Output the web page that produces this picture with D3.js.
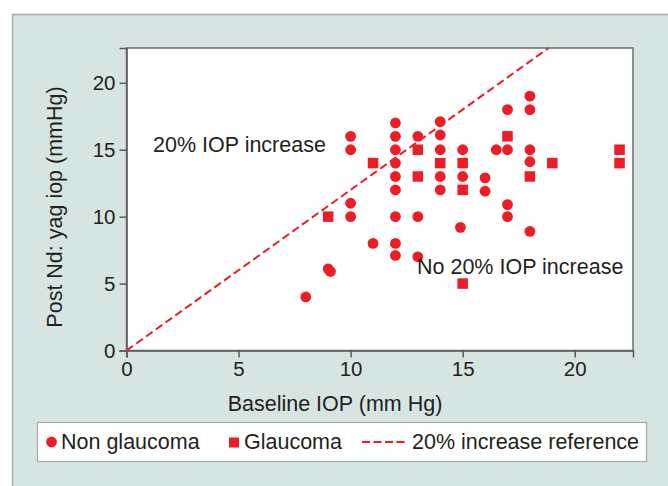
<!DOCTYPE html>
<html><head><meta charset="utf-8">
<script src="https://cdn.jsdelivr.net/npm/d3@7"></script>
<style>html,body{margin:0;padding:0;background:#fff;}svg{display:block;}text{font-family:"Liberation Sans",Arial,sans-serif;fill:#231f20;}</style>
</head><body>
<script>
// Data
const nonGlaucoma = [
  [8,4],[9,6.1],[9.1,5.9],
  [10,16],[10,15],[10,11],[10,10],
  [11,8],
  [12,17],[12,16],[12,15],[12,14],[12,13],[12,12],[12,10],[12,8],[12,7.1],
  [13,16],[13,10],[13,7],
  [14,17.1],[14,16.1],[14,15],[14,13],[14,12],
  [15,15],[15,13],[14.9,9.2],
  [16,12.9],[16,11.9],[16.5,15],
  [17,18],[17,15],[17,10.9],[17,10],
  [18,19],[18,18],[18,15],[18,14.1],[18,8.9]
];
const glaucoma = [
  [9,10],[11,14],[13,15],[13,13],[14,14],[15,14],[15,12],[15,5],
  [17,16],[18,13],[19,14],[22,15],[22,14]
];
const xTicks = [0,5,10,15,20];
const yTicks = [0,5,10,15,20];
const refSlope = 1.2;
const labels = {x:"Baseline IOP (mm Hg)", y:"Post Nd: yag iop (mmHg)", above:"20% IOP increase", below:"No 20% IOP increase"};
const legendItems = ["Non glaucoma","Glaucoma","20% increase reference"];

const W=668,H=486, red="#ee1c25";
const svg=d3.select("body").append("svg").attr("width",W).attr("height",H);
// panel
svg.append("rect").attr("x",12.5).attr("y",14.5).attr("width",W).attr("height",H).attr("fill","#d6e5e2").attr("stroke","#a9acac").attr("stroke-width",1.5);

const L=126.5,R=633,T=48,B=350.5;
const x=d3.scaleLinear().domain([0,22.6]).range([L,R]);
const y=d3.scaleLinear().domain([0,22.6]).range([B,T]);

svg.append("rect").attr("x",L).attr("y",T).attr("width",R-L).attr("height",B-T).attr("fill","#fff").attr("stroke","#6d6e70").attr("stroke-width",1.5);

const gx=svg.append("g").attr("transform",`translate(0,${B})`).call(d3.axisBottom(x).tickValues(xTicks).tickSize(7).tickPadding(4));
const gy=svg.append("g").attr("transform",`translate(${L},0)`).call(d3.axisLeft(y).tickValues(yTicks).tickSize(7).tickPadding(4));
[gx,gy].forEach(g=>{g.select(".domain").attr("stroke","#58595b").attr("stroke-width",1.5);g.selectAll(".tick line").attr("stroke","#58595b").attr("stroke-width",1.5);g.selectAll("text").attr("font-size",20.5).attr("font-family","Liberation Sans, Arial, sans-serif").attr("fill","#231f20");});

// reference line (clipped to plot top)
const xEnd=y.domain()[1]/refSlope;
svg.append("line").attr("x1",x(0)).attr("y1",y(0)).attr("x2",x(xEnd)).attr("y2",y(xEnd*refSlope)).attr("stroke",red).attr("stroke-width",2).attr("stroke-dasharray","8,4");

svg.append("g").selectAll("circle").data(nonGlaucoma).join("circle").attr("cx",d=>x(d[0])).attr("cy",d=>y(d[1])).attr("r",5.4).attr("fill",red);
const s=10.5;
svg.append("g").selectAll("rect").data(glaucoma).join("rect").attr("x",d=>x(d[0])-s/2).attr("y",d=>y(d[1])-s/2).attr("width",s).attr("height",s).attr("fill",red);

const fs=21.5;
svg.append("text").attr("x",153).attr("y",152).attr("font-size",fs).text(labels.above);
svg.append("text").attr("x",417).attr("y",274).attr("font-size",fs).text(labels.below);
svg.append("text").attr("x",335).attr("y",411).attr("text-anchor","middle").attr("font-size",fs).text(labels.x);
svg.append("text").attr("transform",`translate(62,207) rotate(-90)`).attr("text-anchor","middle").attr("font-size",fs).text(labels.y);

// legend
const lg=svg.append("g");
lg.append("rect").attr("x",37.5).attr("y",422.5).attr("width",609).attr("height",39).attr("fill","#fff").attr("stroke","#a7a9ac").attr("stroke-width",1.2);
lg.append("circle").attr("cx",51.5).attr("cy",442).attr("r",5.4).attr("fill",red);
lg.append("text").attr("x",61).attr("y",449).attr("font-size",fs).text(legendItems[0]);
lg.append("rect").attr("x",229).attr("y",437.5).attr("width",10).attr("height",10).attr("fill",red);
lg.append("text").attr("x",244).attr("y",449).attr("font-size",fs).text(legendItems[1]);
lg.append("line").attr("x1",362).attr("x2",405).attr("y1",442).attr("y2",442).attr("stroke",red).attr("stroke-width",2).attr("stroke-dasharray","8,3.5");
lg.append("text").attr("x",412).attr("y",449).attr("font-size",fs).text(legendItems[2]);
</script>
</body></html>
